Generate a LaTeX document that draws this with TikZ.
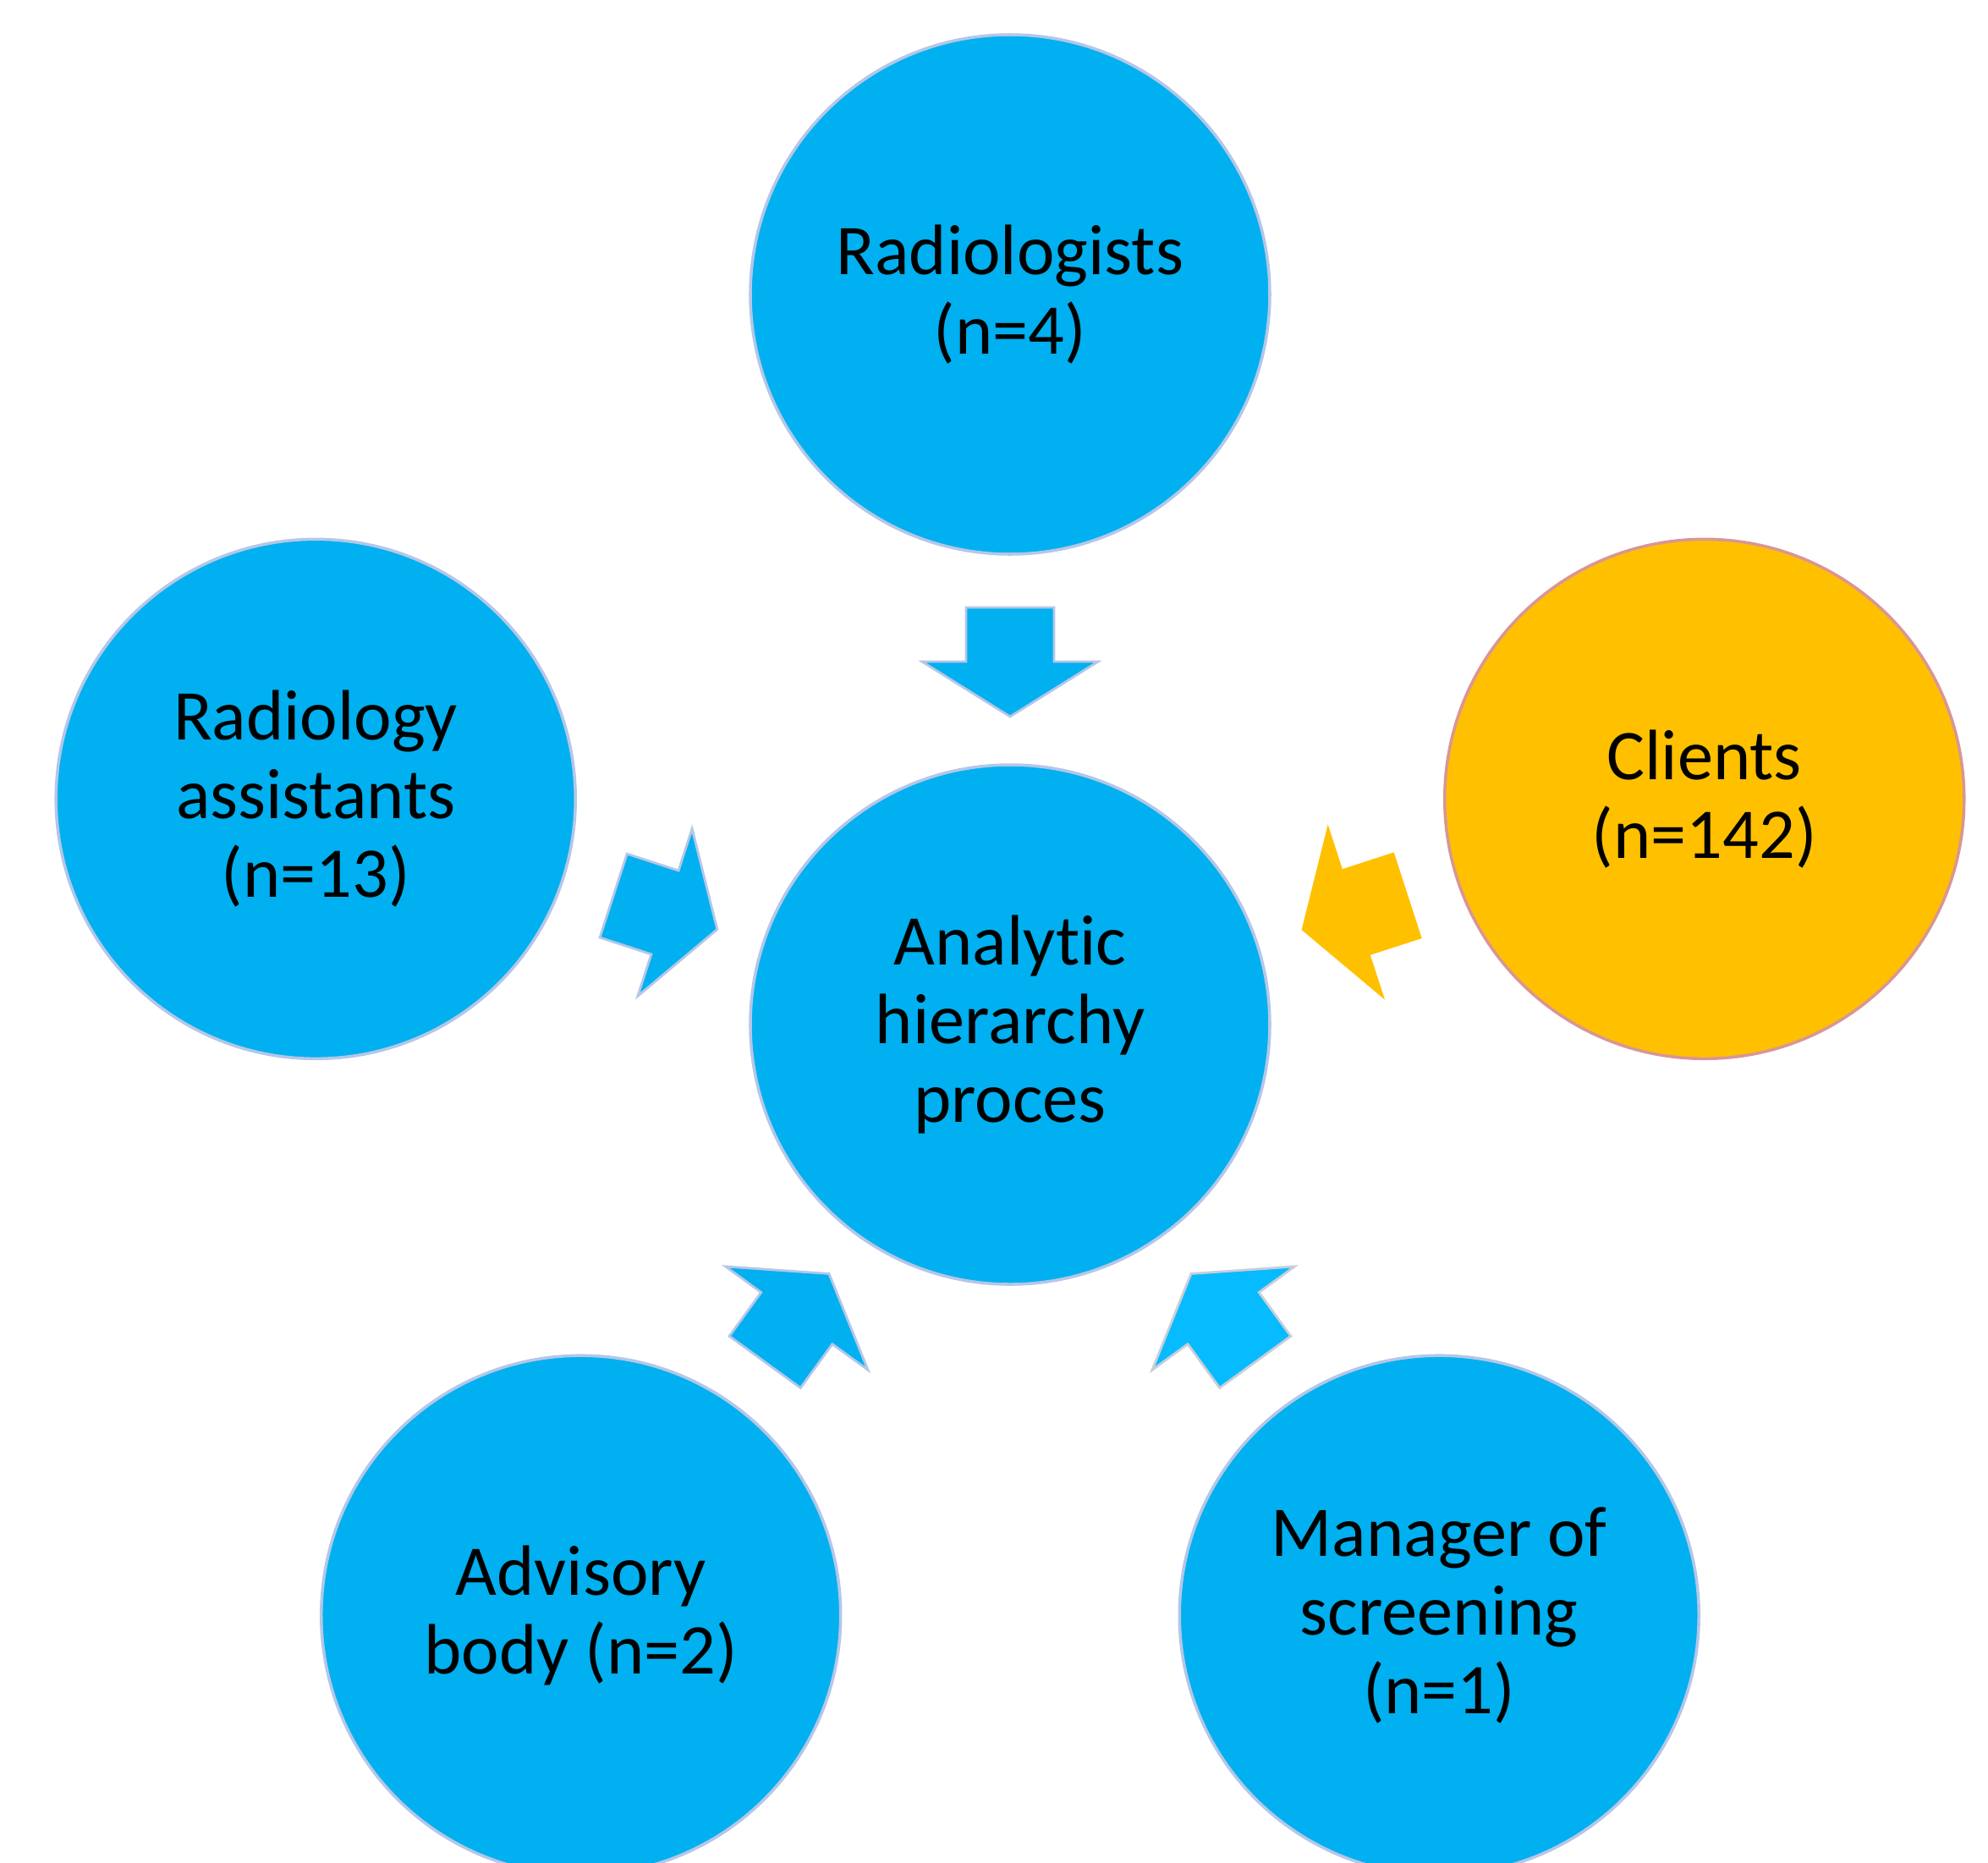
\documentclass[tikz,border=0pt]{standalone}
\usepackage{fontspec}
\setmainfont{Carlito}[Ligatures=NoCommon]

\begin{document}
\begin{tikzpicture}[line join=round, line cap=round]
  \definecolor{cSky}{RGB}{0, 176, 240}
  \definecolor{cSkyLight}{RGB}{6, 187, 255}
  \definecolor{cGold}{RGB}{255, 192, 0}
  \definecolor{cEdge}{RGB}{180, 199, 231}
  \definecolor{cGrey}{RGB}{200, 206, 216}
  \definecolor{cRose}{RGB}{217, 150, 148}

  \tikzset{
    bubble/.style={circle, draw=cEdge, line width=1pt, fill=cSky,
      minimum size=6.14cm, inner sep=0pt, align=center,
      font=\fontsize{24}{26.5}\selectfont},
    flow/.style={line width=0.8pt, line join=miter}
  }

  \useasboundingbox (-11.94, -9.90) rectangle (11.56, 12.11);
  \clip (-11.94, -9.90) rectangle (11.56, 12.11);

  \node[bubble] (hub) at (0, 0) {Analytic\\hierarchy\\proces};
  \node[bubble] (rad) at (90:8.63) {Radiologists\\(n=4)};
  \node[bubble] (ass) at (162:8.63) {Radiology\\assistants\\(n=13)};
  \node[bubble, fill=cGold, draw=cRose] (cli) at (18:8.63) {Clients\\(n=142)};
  \node[bubble] (adv) at (234:8.63) {Advisory\\body (n=2)};
  \node[bubble] (man) at (306:8.63) {Manager of\\screening\\(n=1)};

  % block arrows pointing into the hub
  \foreach \a/\c/\e in {90/cSky/cEdge, 162/cSky/cEdge, 18/cGold/cGold,
                        234/cSky/cEdge, 306/cSkyLight/cGrey}
    \filldraw[flow, fill=\c, draw=\e, shift={(hub)}, rotate=\a]
      (4.93, 0.52) -- (4.29, 0.52) -- (4.29, 1.04) -- (3.64, 0)
      -- (4.29, -1.04) -- (4.29, -0.52) -- (4.93, -0.52) -- cycle;
\end{tikzpicture}
\end{document}
